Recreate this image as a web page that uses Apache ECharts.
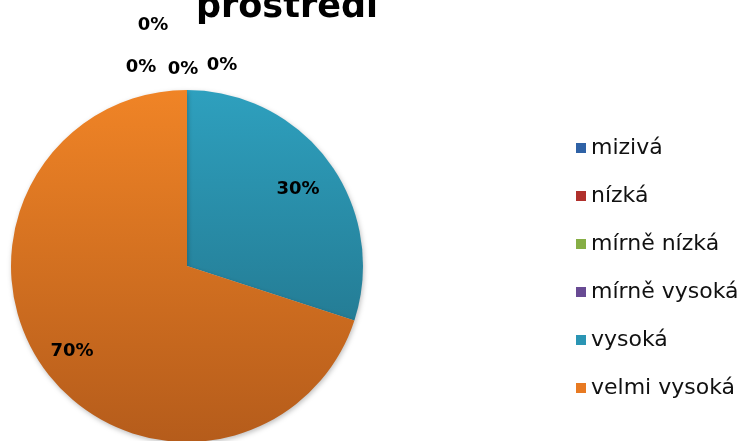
<!DOCTYPE html>
<html>
<head>
<meta charset="utf-8">
<script src="https://cdn.jsdelivr.net/npm/echarts@6/dist/echarts.min.js"></script>
<style>html,body{margin:0;padding:0;background:#fff}#c{width:742px;height:441px}</style>
</head>
<body>
<div id="c"></div>
<script>
const titleText = 'prostředí';
const categories = ['mizivá', 'nízká', 'mírně nízká', 'mírně vysoká', 'vysoká', 'velmi vysoká'];
const values = [0, 0, 0, 0, 30, 70];
const legendColors = ['#2F62A6', '#B0302C', '#86AE45', '#684A93', '#2A95B4', '#E87A22'];
const topColors = ['#4F81BD', '#C0504D', '#9BBB59', '#8064A2', '#2EA0BE', '#F08426'];
const bottomColors = ['#2C4D75', '#772C2A', '#5F7530', '#4D3B62', '#1F6A80', '#B55C1B'];
const labelOffsets = [[-46, -58], [-4, -56], [35, -60], [-34, -100], [-3, 6], [-1, 2]];

const chart = echarts.init(document.getElementById('c'), null, {renderer: 'canvas'});
const FONT = 'DejaVu Sans';

function grad(i) {
  return new echarts.graphic.LinearGradient(0, 90, 0, 442, [
    {offset: 0, color: topColors[i]},
    {offset: 1, color: bottomColors[i]}
  ], true);
}

const pieData = categories.map((n, i) => ({name: n, value: values[i], itemStyle: {color: grad(i)}}));
const labelData = categories.map((n, i) => ({name: n, value: values[i], label: {offset: labelOffsets[i]}}));

chart.setOption({
  animation: false,
  title: {
    text: titleText,
    left: 196,
    top: -12,
    padding: 0,
    textStyle: {fontFamily: FONT, fontWeight: 'bold', fontSize: 35, color: '#000', lineHeight: 40}
  },
  legend: {
    orient: 'vertical',
    left: 576,
    top: 137,
    padding: 0,
    itemWidth: 10,
    itemHeight: 10,
    itemGap: 26,
    itemTextGap: 7,
    icon: 'rect',
    selectedMode: false,
    data: categories.map((n, i) => ({name: n, itemStyle: {color: legendColors[i]}})),
    textStyle: {fontFamily: FONT, fontSize: 22, color: '#111', lineHeight: 22}
  },
  series: [
    {
      type: 'pie',
      center: [187, 266],
      radius: 176,
      startAngle: 90,
      clockwise: true,
      label: {show: false},
      labelLine: {show: false},
      silent: true,
      itemStyle: {borderWidth: 0, shadowBlur: 5, shadowColor: 'rgba(0,0,0,0.25)', shadowOffsetX: 1, shadowOffsetY: 2},
      emphasis: {disabled: true},
      data: pieData
    },
    {
      type: 'pie',
      center: [187, 266],
      radius: [100, 176],
      startAngle: 90,
      clockwise: true,
      silent: true,
      avoidLabelOverlap: false,
      itemStyle: {color: 'rgba(0,0,0,0)', borderWidth: 0},
      emphasis: {disabled: true},
      label: {
        show: true,
        position: 'inside',
        formatter: '{d}%',
        fontFamily: FONT,
        fontWeight: 'bold',
        fontSize: 18,
        color: '#000'
      },
      labelLine: {show: false},
      data: labelData
    }
  ]
});
</script>
</body>
</html>
